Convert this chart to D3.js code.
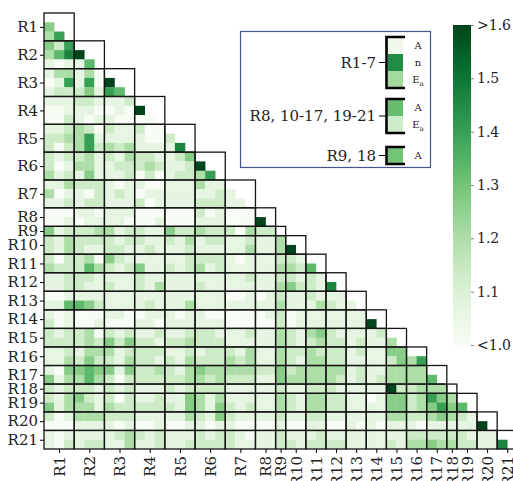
<!DOCTYPE html>
<html>
<head>
<meta charset="utf-8">
<script src="https://cdn.jsdelivr.net/npm/d3@7"></script>
<style>
body { margin: 0; background: #fff; }
text { font-family: "DejaVu Serif", serif; fill: #222; }
</style>
</head>
<body>
<svg id="chart" width="513" height="481"></svg>
<script>
var reactions = ["R1", "R2", "R3", "R4", "R5", "R6", "R7", "R8", "R9", "R10", "R11",
  "R12", "R13", "R14", "R15", "R16", "R17", "R18", "R19", "R20", "R21"];
var paramCounts = [3, 3, 3, 3, 3, 3, 3, 2, 1, 2, 2, 2, 2, 2, 2, 2, 2, 1, 2, 2, 2];

// one string per parameter row (lower triangle), digit d = value 1 + d * 0.6 / 9
var levelRows = [
  "",
  "4",
  "36",
  "426",
  "3579",
  "10115",
  "133130",
  "0161609",
  "12224165",
  "111221112",
  "0011100109",
  "00210110000",
  "112320211200",
  "2233611111002",
  "20236232311117",
  "212231213221124",
  "2013311222321129",
  "31214111202012236",
  "113222101100111311",
  "3011021210111111121",
  "11212211120111122211",
  "000110111000000201000",
  "0010111100010001110009",
  "41222331221142232220322",
  "213222212211213122112113",
  "2132112211211121111131139",
  "20223042111111222210111221",
  "322253212411212312111113325",
  "1122211112111111111121122121",
  "11221121121311121111111342217",
  "001111111111111111001012112111",
  "1155421111211131111111131113211",
  "10100011001110110000001201111111",
  "201001000110111111000002011111119",
  "2122302121121122211121132134211112",
  "22223242422122322211111321232212113",
  "112133312222112122213113223222121144",
  "11324221322121322232311321332211112436",
  "104454414223213433333224233333" + "12113333",
  "4133532022222" + "23323222114333332" + "121233335",
  "2122212121112" + "12222111112112221" + "1111922333",
  "2134212021121" + "14313111113213322" + "11014423643",
  "4133313222222" + "14314212113213322" + "111144234645",
  "2013332221111" + "13214211112112211" + "1111332234321",
  "0001111010010" + "01101100001001100" + "10101110111119",
  "1011111232121" + "11212210112111211" + "111111222222111",
  "1021221131121" + "12222211112212222" + "1111213343322117"
];

var colorTicks = [1.0, 1.1, 1.2, 1.3, 1.4, 1.5, 1.6];
var colorTickLabels = ["<1.0", "1.1", "1.2", "1.3", "1.4", "1.5", ">1.6"];

var legendGroups = ["R1-7", "R8, 10-17, 19-21", "R9, 18"];
var legendParams = [["A", "n", "Ea"], ["A", "Ea"], ["A"]];
var legendValues = [[1.03, 1.45, 1.22], [1.32, 1.13], [1.30]];

var svg = d3.select("#chart");
var nParams = d3.sum(paramCounts);

var starts = [], acc = 0;
paramCounts.forEach(function (c) { starts.push(acc); acc += c; });
var centers = starts.map(function (s, i) { return s + paramCounts[i] / 2; });

var x = d3.scaleLinear().domain([0, nParams]).range([44, 44 + nParams * 10.07]);
var y = d3.scaleLinear().domain([0, nParams]).range([13, 449]);
var color = d3.scaleSequential(d3.interpolateGreens).domain([1, 1.6]).clamp(true);

var cells = [];
levelRows.forEach(function (row, i) {
  row.split("").forEach(function (ch, j) {
    cells.push({ i: i, j: j, v: 1 + (+ch) * 0.6 / 9 });
  });
});

svg.append("g").selectAll("rect")
  .data(cells)
  .enter()
  .append("rect")
    .attr("x", function (d) { return x(d.j); })
    .attr("y", function (d) { return y(d.i); })
    .attr("width", x(1) - x(0) + 0.3)
    .attr("height", y(1) - y(0) + 0.3)
    .attr("fill", function (d) { return color(d.v); });

// block outlines, lower triangle incl. diagonal blocks
var blocks = [];
paramCounts.forEach(function (ci, I) {
  for (var J = 0; J <= I; J++) blocks.push({ I: I, J: J });
});
svg.append("g").selectAll("rect")
  .data(blocks)
  .enter()
  .append("rect")
    .attr("x", function (d) { return x(starts[d.J]); })
    .attr("y", function (d) { return y(starts[d.I]); })
    .attr("width", function (d) { return x(starts[d.J] + paramCounts[d.J]) - x(starts[d.J]); })
    .attr("height", function (d) { return y(starts[d.I] + paramCounts[d.I]) - y(starts[d.I]); })
    .attr("fill", "none")
    .attr("stroke", "#151515")
    .attr("stroke-width", 1.3);

var yAxis = svg.append("g")
  .attr("transform", "translate(44,0)")
  .call(d3.axisLeft(y).tickValues(centers).tickSize(4).tickPadding(2)
    .tickFormat(function (d, i) { return reactions[i]; }));
yAxis.select(".domain").remove();
yAxis.selectAll("text").style("font-size", "15px").style("font-family", "DejaVu Serif");

var xAxis = svg.append("g")
  .attr("transform", "translate(0,449)")
  .call(d3.axisBottom(x).tickValues(centers).tickSize(4)
    .tickFormat(function (d, i) { return reactions[i]; }));
xAxis.select(".domain").remove();
xAxis.selectAll("text")
  .style("font-size", "15px")
  .style("font-family", "DejaVu Serif")
  .style("text-anchor", "end")
  .attr("transform", "rotate(-90)")
  .attr("x", -7)
  .attr("y", 0)
  .attr("dy", "0.35em");

// colour bar
var cbar = d3.scaleLinear().domain([1, 1.6]).range([345, 25]);
var grad = svg.append("defs").append("linearGradient")
  .attr("id", "cgrad")
  .attr("x1", 0).attr("y1", 1).attr("x2", 0).attr("y2", 0);
d3.range(0, 1.0001, 0.05).forEach(function (t) {
  grad.append("stop").attr("offset", t).attr("stop-color", d3.interpolateGreens(t));
});
svg.append("rect")
  .attr("x", 453)
  .attr("y", cbar(1.6))
  .attr("width", 18)
  .attr("height", cbar(1) - cbar(1.6))
  .attr("fill", "url(#cgrad)");
var cAxis = svg.append("g")
  .attr("transform", "translate(471,0)")
  .call(d3.axisRight(cbar).tickValues(colorTicks).tickSize(3).tickPadding(3)
    .tickFormat(function (d, i) { return colorTickLabels[i]; }));
cAxis.select(".domain").remove();
cAxis.selectAll("line").attr("stroke", "#888");
cAxis.selectAll("text").style("font-size", "14px").style("font-family", "DejaVu Serif");

// legend
var legend = svg.append("g");
legend.append("rect")
  .attr("x", 240.5).attr("y", 31.5)
  .attr("width", 190).attr("height", 136)
  .attr("fill", "#fff")
  .attr("stroke", "#46538a")
  .attr("stroke-width", 1.2);

var groupTops = [37, 99, 147];
var legCellH = 17;
legendGroups.forEach(function (name, g) {
  var top = groupTops[g];
  var n = legendParams[g].length;
  var bottom = top + n * legCellH;
  var gg = legend.append("g");
  gg.selectAll("rect")
    .data(legendValues[g])
    .enter()
    .append("rect")
      .attr("x", 388)
      .attr("y", function (d, k) { return top + k * legCellH; })
      .attr("width", 15)
      .attr("height", legCellH)
      .attr("fill", function (d) { return color(d); });
  gg.append("path")
    .attr("d", "M405," + top + "H386.5V" + bottom + "H405")
    .attr("fill", "none")
    .attr("stroke", "#000")
    .attr("stroke-width", 2.6);
  gg.append("line")
    .attr("x1", 379).attr("x2", 385)
    .attr("y1", (top + bottom) / 2).attr("y2", (top + bottom) / 2)
    .attr("stroke", "#000").attr("stroke-width", 1);
  gg.append("text")
    .attr("x", 376)
    .attr("y", (top + bottom) / 2)
    .attr("dy", "0.35em")
    .attr("text-anchor", "end")
    .style("font-size", "15px")
    .text(name);
  legendParams[g].forEach(function (p, k) {
    var t = gg.append("text")
      .attr("x", 418)
      .attr("y", top + k * legCellH + legCellH / 2)
      .attr("dy", "0.35em")
      .attr("text-anchor", "middle")
      .style("font-size", "10px");
    if (p == "Ea") {
      t.append("tspan").text("E");
      t.append("tspan").attr("dy", "3").style("font-size", "7px").text("a");
    } else {
      t.text(p);
    }
  });
});
</script>
</body>
</html>
